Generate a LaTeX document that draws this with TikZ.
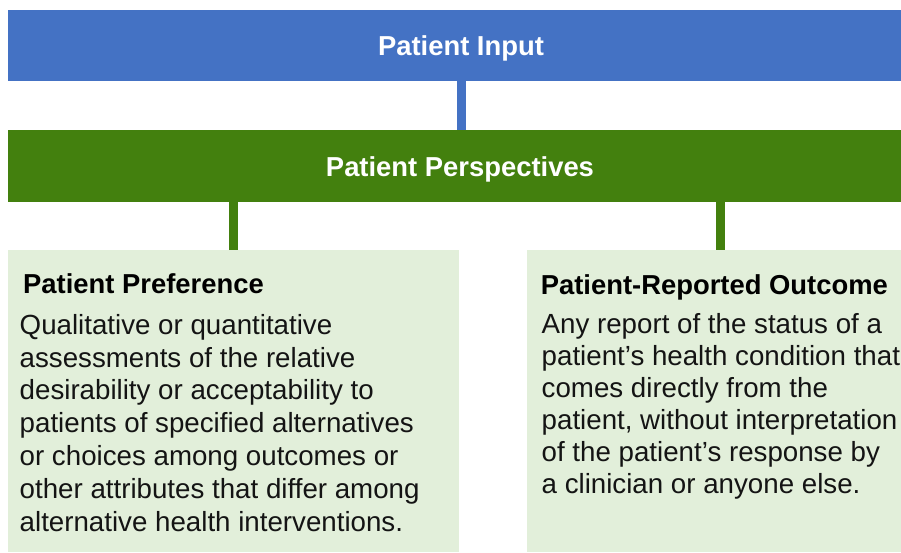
\documentclass[tikz,border=0pt]{standalone}
\usepackage{fontspec}
\setmainfont{Liberation Sans}
\definecolor{inblue}{HTML}{4472C4}
\definecolor{ppgreen}{HTML}{43800E}
\definecolor{boxgreen}{HTML}{E2EFDA}
\definecolor{bodytext}{HTML}{141414}
\begin{document}
\begin{tikzpicture}[x=1pt,y=-1pt,
  bar/.style={rectangle, draw=none, inner sep=0pt, outer sep=0pt, anchor=north west},
  bartext/.style={font=\bfseries\fontsize{27.4}{32.7}\selectfont, text=white, inner sep=0pt, anchor=base},
  headtext/.style={font=\bfseries\fontsize{27.4}{32.7}\selectfont, text=black, inner sep=0pt, anchor=base west},
  bodyL/.style={font=\fontsize{27.7}{32.8}\selectfont, text=bodytext, inner sep=0pt, align=left, anchor=north west},
  bodyR/.style={font=\fontsize{27.7}{32.0}\selectfont, text=bodytext, inner sep=0pt, align=left, anchor=north west},
  blueconn/.style={draw=inblue, line width=9pt},
  greenconn/.style={draw=ppgreen, line width=8.5pt}]
\useasboundingbox (0,0) rectangle (901,552);
% bars
\node[bar, fill=inblue, minimum width=893pt, minimum height=71pt] (input) at (8,10) {};
\node[bar, fill=ppgreen, minimum width=893pt, minimum height=72pt] (persp) at (8,130) {};
% boxes
\node[bar, fill=boxgreen, minimum width=451pt, minimum height=302pt] (pref) at (8,250) {};
\node[bar, fill=boxgreen, minimum width=374pt, minimum height=302pt] (pro) at (527,250) {};
% bar labels
\node[bartext] (inputlbl) at (461,55.3) {Patient Input};
\node[bartext] (persplbl) at (460,176) {Patient Perspectives};
% connectors
\coordinate (rc) at (720.5,0);
\draw[blueconn] (inputlbl |- input.south) -- (inputlbl |- persp.north);
\draw[greenconn] (pref.north |- persp.south) -- (pref.north);
\draw[greenconn] (rc |- persp.south) -- (rc |- pro.north);
% box texts
\node[headtext] (preft) at (23,293.5) {Patient Preference};
\node[bodyL] (prefb) at (19.5,312) {\rule{0pt}{22pt}Qualitative or quantitative\\
assessments of the relative\\
desirability or acceptability to\\
patients of specified alternatives\\
or choices among outcomes or\\
other attributes that differ among\\
alternative health interventions.};
\node[headtext] (prot) at (540.6,294) {Patient-Reported Outcome};
\node[bodyR] (prob) at (541.5,311) {\rule{0pt}{22pt}Any report of the status of a\\
patient’s health condition that\\
comes directly from the\\
patient, without interpretation\\
of the patient’s response by\\
a clinician or anyone else.};
\end{tikzpicture}
\end{document}
